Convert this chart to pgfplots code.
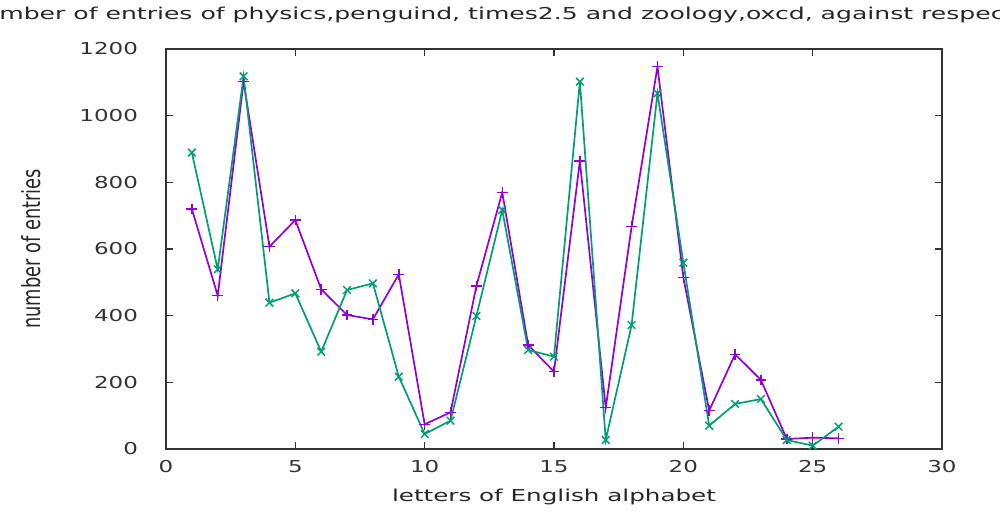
\documentclass[border=0pt]{standalone}
\usepackage{fontspec}
\setmainfont{DejaVu Sans}
\usepackage{pgfplots}
\pgfplotsset{compat=1.18}
\definecolor{gpviolet}{HTML}{9400D3}
\definecolor{gpgreen}{HTML}{009E73}
\begin{document}
\begin{tikzpicture}
\begin{axis}[name=a, scale only axis, width=388pt, height=200pt,
  xmin=0, xmax=30, ymin=0, ymax=1200,
  xtick={0,5,...,30}, ytick={0,200,...,1200},
  tick align=inside, major tick length=3.5pt,
  axis line style={black!80, line width=0.6pt},
  tick style={black!80, line width=0.6pt},
  font=\fontsize{8.2}{10}\selectfont,
  /pgf/number format/assume math mode=true,
  /pgf/number format/1000 sep={},
  tick label style={xscale=1.4, text=black!80},
  xticklabel style={yshift=-2pt},
  yticklabel style={xshift=-6.5pt},
  xlabel={letters of English alphabet},
  ylabel={number of entries},
  xlabel style={at={(axis description cs:0.5,0)}, anchor=center, yshift=-24pt, xscale=1.5, text=black!85},
  ylabel style={at={(axis description cs:-0.1735,0.5)}, anchor=center, yscale=1.4, text=black!85, font=\fontsize{8.9}{10}\selectfont},
  title={number of entries of physics,penguind, times2.5 and zoology,oxcd, against respective letters},
  title style={at={(axis description cs:0.5,1)}, anchor=center, yshift=11pt, xscale=1.53, text=black!85},
]
\addplot[color=gpviolet, line width=0.85pt, mark=+, mark size=2.7pt, mark options={line width=0.75pt}] coordinates {
(1,720) (2,460) (3,1102) (4,607) (5,687) (6,479) (7,402) (8,389) (9,524) (10,74)
(11,110) (12,489) (13,770) (14,312) (15,232) (16,864) (17,124) (18,667) (19,1147) (20,515)
(21,115) (22,284) (23,207) (24,30) (25,34) (26,32)};
\addplot[color=gpgreen, line width=0.85pt, mark=x, mark size=2.7pt, mark options={line width=0.75pt}] coordinates {
(1,889) (2,539) (3,1118) (4,439) (5,467) (6,292) (7,477) (8,497) (9,217) (10,45)
(11,85) (12,399) (13,717) (14,297) (15,277) (16,1102) (17,27) (18,372) (19,1067) (20,559)
(21,70) (22,135) (23,150) (24,27) (25,10) (26,67)};
\end{axis}
\pgfresetboundingbox
\path[use as bounding box] ([shift={(-83pt,-33pt)}]a.south west) rectangle ([shift={(29pt,24.5pt)}]a.north east);
\end{tikzpicture}
\end{document}
